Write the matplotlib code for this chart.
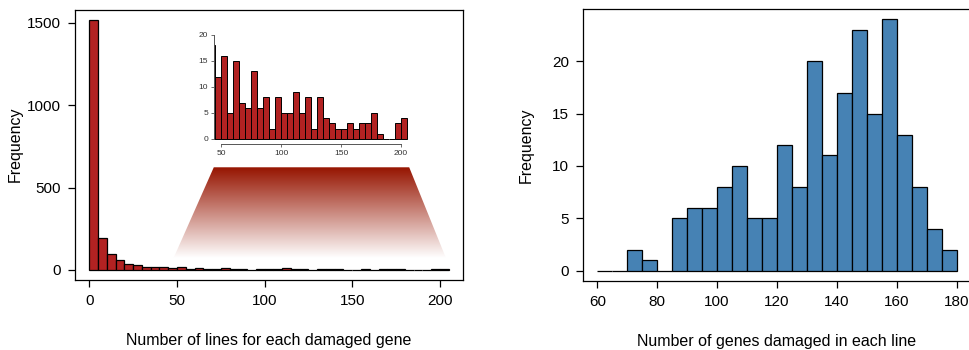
import numpy as np
import matplotlib.pyplot as plt
from matplotlib.patches import Polygon
from matplotlib.colors import LinearSegmentedColormap

plt.rcParams['font.family'] = ['Liberation Sans', 'DejaVu Sans']

# lines per damaged gene, bins of 5 from 0 to 205
lines_edges = np.arange(0, 210, 5)
lines_counts = [1520, 195, 95, 60, 35, 28, 20, 18, 18, 12, 16, 5, 15, 7, 6, 13, 6, 8, 2, 8,
                5, 5, 9, 5, 8, 2, 8, 4, 3, 2, 2, 3, 2, 3, 3, 5, 1, 0, 0, 3, 4]

# genes damaged per line, bins of 5 from 60 to 180
genes_edges = np.arange(60, 185, 5)
genes_counts = [0, 0, 2, 1, 0, 5, 6, 6, 8, 10, 5, 5, 12, 8, 20, 11, 17, 23, 15, 24,
                13, 8, 4, 2]

zoom_lo, zoom_hi = 45, 205

red = '#B22222'
blue = '#4682B4'

W, H = 969, 350
fig = plt.figure(figsize=(W / 100, H / 100), dpi=100)


def px_axes(l, t, r, b):
    return fig.add_axes([l / W, 1 - b / H, (r - l) / W, (b - t) / H])


def r_range(lo, hi):
    d = (hi - lo) * 0.04
    return lo - d, hi + d


# ---- left panel
ax1 = px_axes(75, 9.5, 463, 280)
ax1.bar(lines_edges[:-1], lines_counts, width=5, align='edge', color=red,
        edgecolor='black', linewidth=0.9)
ax1.set_xticks([0, 50, 100, 150, 200])
ax1.set_yticks([0, 500, 1000, 1500])
ax1.set_xlabel('Number of lines for each damaged gene', fontsize=11.5, labelpad=18)
ax1.set_ylabel('Frequency', fontsize=11.5, labelpad=3)

# gradient trapezoid pointing from the zoomed range to the inset
ymax = max(lines_counts)
top_y, bot_y = 0.41 * ymax, 0.047 * ymax
poly = [(zoom_lo + 26, top_y), (zoom_hi - 22.5, top_y), (zoom_hi - 1.5, bot_y), (zoom_lo + 3, bot_y)]
cmap = LinearSegmentedColormap.from_list('fade', ['#ffffff', '#961400'])
grad = np.linspace(0, 1, 256).reshape(-1, 1)
im = ax1.imshow(grad, cmap=cmap, origin='lower', aspect='auto',
                extent=[zoom_lo, zoom_hi, bot_y, top_y], zorder=1)
patch = Polygon(poly, closed=True, facecolor='none', edgecolor='none')
ax1.add_patch(patch)
im.set_clip_path(patch)
ax1.set_xlim(*r_range(0, 205))
ax1.set_ylim(*r_range(0, ymax))

# inset
axi = px_axes(214.3, 30.8, 409.4, 144.2)
axi.bar(lines_edges[:-1], lines_counts, width=5, align='edge', color=red,
        edgecolor='black', linewidth=0.7)
axi.set_xlim(44.4, 207)
axi.set_ylim(-1, 20.8)
axi.set_xticks([50, 100, 150, 200])
axi.set_yticks([0, 5, 10, 15, 20])
for s in ['top', 'right']:
    axi.spines[s].set_visible(False)
axi.spines['left'].set_bounds(0, 20)
axi.spines['bottom'].set_bounds(50, 200)
for s in ['left', 'bottom']:
    axi.spines[s].set_color('#555555')
    axi.spines[s].set_linewidth(0.7)
axi.tick_params(labelsize=6, length=2.5, width=0.6, colors='#555555', pad=2,
                labelcolor='#333333')
axi.patch.set_alpha(0)

# ---- right panel
ax2 = px_axes(583, 9.3, 971, 280.7)
ax2.bar(genes_edges[:-1], genes_counts, width=5, align='edge', color=blue,
        edgecolor='black', linewidth=0.9)
ax2.set_xlim(*r_range(60, 180))
ax2.set_ylim(*r_range(0, max(genes_counts)))
ax2.set_xticks(np.arange(60, 181, 20))
ax2.set_yticks([0, 5, 10, 15, 20])
ax2.set_xlabel('Number of genes damaged in each line', fontsize=11.5, labelpad=18)
ax2.set_ylabel('Frequency', fontsize=11.5, labelpad=13)

for ax in (ax1, ax2):
    ax.tick_params(labelsize=11, length=5, width=0.9, pad=5)
    for s in ax.spines.values():
        s.set_linewidth(0.9)

fig.savefig('out.png', dpi=100)
